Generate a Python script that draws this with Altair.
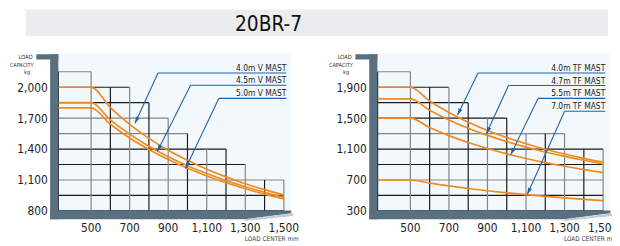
import math
import altair as alt
import pandas as pd

FONT = "Liberation Sans Narrow, Arial Narrow, DejaVu Sans Condensed, sans-serif"

# ---------------- data ----------------
TITLE = "20BR-7"

col_edges = [330, 500, 600, 700, 800, 900, 1000, 1100, 1200, 1300, 1400, 1500]
left_col_tops = [2150, 2000, 2000, 1850, 1700, 1550, 1400, 1400, 1250, 1100, 1100]
right_col_tops = [2100, 1900, 1900, 1700, 1500, 1500, 1300, 1300, 1300, 1100, 1100]
left_levels = [800, 950, 1100, 1250, 1400, 1550, 1700, 1850, 2000, 2150]
right_levels = [300, 500, 700, 900, 1100, 1300, 1500, 1700, 1900, 2100]

x_ticks = [500, 700, 900, 1100, 1300, 1500]
x_tick_labels = ["500", "700", "900", "1,100", "1,300", "1,500"]
left_y_ticks = [800, 1100, 1400, 1700, 2000]
left_y_labels = ["800", "1,100", "1,400", "1,700", "2,000"]
right_y_ticks = [300, 700, 1100, 1500, 1900]
right_y_labels = ["300", "700", "1,100", "1,500", "1,900"]

load_centers = [330, 500, 600, 700, 800, 900, 1000, 1100, 1200, 1300, 1400, 1500]
left_names = ["4.0m V MAST", "4.5m V MAST", "5.0m V MAST"]
left_values = [
    [2000, 2000, 1802, 1640, 1504, 1389, 1291, 1205, 1130, 1064, 1006, 953],
    [1850, 1850, 1684, 1545, 1427, 1326, 1239, 1162, 1094, 1034, 980, 931],
    [1800, 1800, 1641, 1508, 1395, 1298, 1213, 1139, 1073, 1015, 962, 915],
]
right_names = ["4.0m TF MAST", "4.7m TF MAST", "5.5m TF MAST", "7.0m TF MAST"]
right_values = [
    [1900, 1900, 1721, 1572, 1447, 1341, 1249, 1169, 1098, 1036, 980, 930],
    [1750, 1750, 1602, 1477, 1370, 1277, 1197, 1125, 1062, 1006, 955, 909],
    [1500, 1500, 1378, 1274, 1184, 1107, 1038, 978, 925, 877, 833, 794],
    [700, 700, 659, 623, 590, 561, 534, 510, 488, 468, 449, 432],
]
# callouts: label line start (mm), label line end (mm), label line level (kg), arrow tip (mm, kg)
left_callouts = [
    (847, 1513, 2138, 728, 1650),
    (1016, 1513, 2019, 844, 1378),
    (1163, 1513, 1892, 990, 1212),
]
right_callouts = [
    (851, 1511, 2084, 745, 1540),
    (1009, 1511, 1922, 895, 1300),
    (1163, 1511, 1756, 1021, 1028),
    (1300, 1511, 1590, 1107, 515),
]

# ---------------- styles ----------------
ORANGE = "#f08a1d"
BLUE = "#1e62ad"
SLATE = "#587080"
BG = "#f3f8fc"
DARK = "#1a1a1a"
GRAY = "#858585"
left_hcolor = {2150: GRAY, 2000: DARK, 1850: DARK, 1700: GRAY, 1550: GRAY, 1400: DARK,
               1250: DARK, 1100: GRAY, 950: DARK, 800: DARK}
right_hcolor = {2100: GRAY, 1900: DARK, 1700: DARK, 1500: DARK, 1300: GRAY, 1100: DARK,
                900: DARK, 700: GRAY, 500: DARK, 300: DARK}

Y_TOP_PX, Y_BOT_PX = 78.7, 204.0


def px_rects(rows):
    df = pd.DataFrame(rows, columns=["x", "x2", "y", "y2", "c"])
    return alt.Chart(df).mark_rect().encode(
        x=alt.X("x:Q", scale=None, axis=None), x2="x2:Q",
        y=alt.Y("y:Q", scale=None, axis=None), y2="y2:Q",
        color=alt.Color("c:N", scale=None))


def px_area(xs_, ytop, ybot, color):
    df = pd.DataFrame({"x": xs_, "y": ytop, "y2": ybot})
    return alt.Chart(df).mark_area(color=color).encode(
        x=alt.X("x:Q", scale=None, axis=None),
        y=alt.Y("y:Q", scale=None, axis=None), y2="y2:Q")


def px_text(x, y, text, size, align="left", color="#333", weight="normal"):
    df = pd.DataFrame({"x": [x], "y": [y], "t": [text]})
    return alt.Chart(df).mark_text(font=FONT, fontSize=size, align=align, baseline="alphabetic",
                                   color=color, fontWeight=weight).encode(
        x=alt.X("x:Q", scale=None, axis=None), y=alt.Y("y:Q", scale=None, axis=None), text="t:N")


def panel(off, xr, ydom, tops, levels, hcolor, yticks, ylabels, names, values, callouts):
    xs = alt.Scale(domain=[330, 1500], range=xr, nice=False, zero=False)
    ys = alt.Scale(domain=ydom, range=[Y_BOT_PX, Y_TOP_PX], nice=False, zero=False)
    kx = (xr[1] - xr[0]) / (1500 - 330)
    ky = (Y_BOT_PX - Y_TOP_PX) / (ydom[1] - ydom[0])
    X = lambda f: alt.X(f, scale=xs, axis=None)
    Y = lambda f: alt.Y(f, scale=ys, axis=None)
    layers = []
    # decoration: background
    layers.append(px_rects([
        (50 + off, 287 + off, 44.7, 204.5, BG),
    ]))
    # grid
    hrows = []
    for L in levels:
        end = None
        for i, t in enumerate(tops):
            if t >= L:
                end = col_edges[i + 1]
        if end is not None:
            hrows.append({"x0": 330, "x1": end, "y0": L, "y1": L, "c": hcolor[L]})
    vrows = []
    for k, e in enumerate(col_edges):
        adj = [tops[j] for j in (k - 1, k) if 0 <= j < len(tops)]
        c = GRAY if e in x_ticks else DARK
        vrows.append({"x0": e, "x1": e, "y0": levels[0], "y1": max(adj), "c": c})
    gdf = pd.DataFrame(hrows + vrows)
    layers.append(alt.Chart(gdf).mark_rule(strokeWidth=1.2).encode(
        x=X("x0:Q"), x2="x1:Q", y=Y("y0:Q"), y2="y1:Q", color=alt.Color("c:N", scale=None)))
    # curves
    recs = []
    for n, vals in zip(names, values):
        for m, v in zip(load_centers, vals):
            recs.append({"mm": m, "kg": v, "s": n})
    cdf = pd.DataFrame(recs)
    layers.append(alt.Chart(cdf).mark_line(color=ORANGE, strokeWidth=1.7, interpolate="monotone").encode(
        x=X("mm:Q"), y=Y("kg:Q"), detail="s:N"))
    # callouts
    seg = []
    heads = []
    labs = []
    for n, (xa, xb, yl, tx, ty) in zip(names, callouts):
        seg.append({"x0": xa, "x1": xb, "y0": yl, "y1": yl})
        seg.append({"x0": xa, "x1": tx, "y0": yl, "y1": ty})
        dx = (tx - xa) * kx
        dy = -(ty - yl) * ky
        ang = math.degrees(math.atan2(dx, -dy)) % 360
        heads.append({"x": tx, "y": ty, "a": ang})
        labs.append({"x": xb, "y": yl, "t": n})
    layers.append(alt.Chart(pd.DataFrame(seg)).mark_rule(color=BLUE, strokeWidth=1.1).encode(
        x=X("x0:Q"), x2="x1:Q", y=Y("y0:Q"), y2="y1:Q"))
    layers.append(alt.Chart(pd.DataFrame(heads)).mark_point(
        shape="M0,0L-0.6,1.9L0.6,1.9Z", filled=True, size=49, color=BLUE, opacity=1).encode(
        x=X("x:Q"), y=Y("y:Q"), angle=alt.Angle("a:Q", scale=None)))
    layers.append(alt.Chart(pd.DataFrame(labs)).mark_text(
        font=FONT, fontSize=8.5, align="right", baseline="alphabetic", dy=-2, color="#222").encode(
        x=X("x:Q"), y=Y("y:Q"), text="t:N"))
    # axis post, hook and base
    layers.append(px_rects([
        (42.7 + off, 51 + off, 45.3, 212.5, SLATE),
        (28.7 + off, 51 + off, 45.3, 50.6, SLATE),
    ]))
    layers.append(px_area([42.7 + off, 240 + off, 287 + off], [203.6] * 3,
                          [212.5, 212.5, 206.5], SLATE))
    layers.append(px_area([240 + off, 289 + off], [212.5, 206.5], [214.2, 209.2], "#c3ccd3"))
    # tick labels
    xt = pd.DataFrame({"v": x_ticks, "t": x_tick_labels})
    layers.append(alt.Chart(xt).mark_text(font=FONT, fontSize=12, baseline="alphabetic",
                                          color="#222").encode(
        x=X("v:Q"), y=alt.value(225), text="t:N"))
    yt = pd.DataFrame({"v": yticks, "t": ylabels})
    layers.append(alt.Chart(yt).mark_text(font=FONT, fontSize=12, align="right", baseline="middle",
                                          dy=0.5, color="#222").encode(
        x=alt.value(40.3 + off), y=Y("v:Q"), text="t:N"))
    # axis titles
    layers.append(px_text(25 + off, 50, "LOAD", 5.8, "right"))
    layers.append(px_text(26 + off, 58, "CAPACITY", 5.6, "right"))
    layers.append(px_text(22.5 + off, 65.5, "kg", 5.8, "right"))
    layers.append(px_text(240 + off, 235, "LOAD CENTER mm", 6.5, "left", "#444"))
    return layers


layers = [
    px_rects([(18, 608, 0, 27, "#ebeced")]),
    px_text(264, 21.3, TITLE, 21, "center", "#111"),
]
layers += panel(0, [51, 279.5], [800, 2000], left_col_tops, left_levels, left_hcolor,
                left_y_ticks, left_y_labels, left_names, left_values, left_callouts)
layers += panel(323.3, [374.5, 603], [300, 1900], right_col_tops, right_levels, right_hcolor,
                right_y_ticks, right_y_labels, right_names, right_values, right_callouts)

chart = alt.layer(*layers).resolve_scale(x="independent", y="independent").properties(
    width=612, height=238, autosize=alt.AutoSizeParams(type="none"), padding=0,
    background="white",
).configure_view(strokeWidth=0, fill=None)

chart.save("out.html", embed_options={"renderer": "svg", "actions": False})
